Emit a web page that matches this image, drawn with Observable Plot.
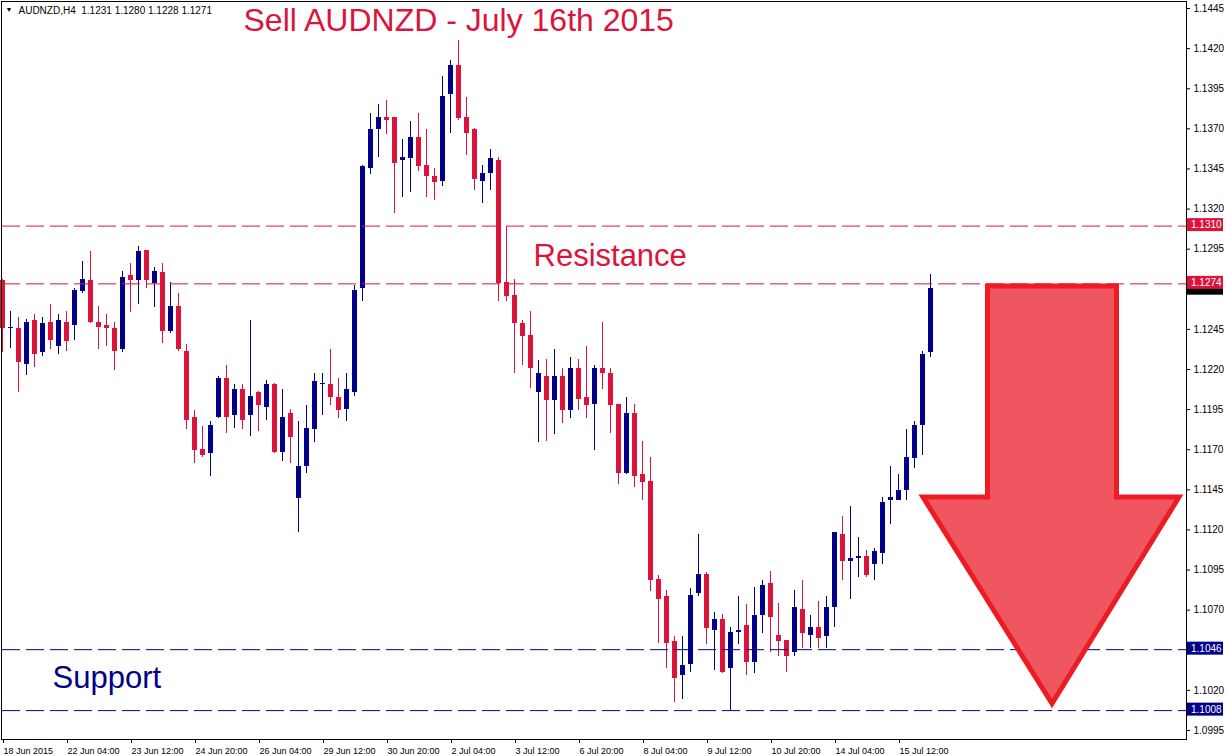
<!DOCTYPE html>
<html>
<head>
<meta charset="utf-8">
<script src="https://cdn.jsdelivr.net/npm/d3@7"></script>
<script src="https://cdn.jsdelivr.net/npm/@observablehq/plot@0.6"></script>
<style>
html, body { margin: 0; padding: 0; background: #fff; }
#chart svg { display: block; }
</style>
</head>
<body>
<div id="chart"></div>
<script>
// ---- Data (AUDNZD, H4 bars) ----
const opens  = [1.1276,1.1246,1.1246,1.1224,1.1251,1.1231,1.1250,1.1235,1.1250,1.1248,
                1.1269,1.1276,1.1250,1.1248,1.1246,1.1233,1.1279,1.1276,1.1295,1.1274,
                1.1281,1.1244,1.1260,1.1232,1.1191,1.1171,1.1168,1.1191,1.1215,1.1192,
                1.1208,1.1192,1.1206,1.1197,1.1211,1.1169,1.1193,1.1140,1.1160,1.1183,
                1.1211,1.1211,1.1203,1.1196,1.1206,1.1271,1.1346,1.1370,1.1378,1.1378,
                1.1351,1.1352,1.1365,1.1348,1.1341,1.1338,1.1392,1.1410,1.1378,1.1370,
                1.1338,1.1343,1.1351,1.1275,1.1267,1.1249,1.1242,1.1206,1.1216,1.1201,
                1.1216,1.1195,1.1221,1.1203,1.1199,1.1221,1.1218,1.1199,1.1156,1.1193,
                1.1155,1.1151,1.1090,1.1079,1.1051,1.1030,1.1037,1.1081,1.1093,1.1058,
                1.1065,1.1034,1.1057,1.1061,1.1038,1.1067,1.1087,1.1055,1.1052,1.1044,
                1.1071,1.1055,1.1060,1.1054,1.1072,1.1118,1.1101,1.1103,1.1104,1.1099,
                1.1106,1.1139,1.1139,1.1145,1.1165,1.1186,1.1231];
const highs  = [1.1277,1.1257,1.1253,1.1252,1.1255,1.1253,1.1261,1.1255,1.1257,1.1271,
                1.1288,1.1294,1.1260,1.1255,1.1250,1.1282,1.1287,1.1297,1.1295,1.1284,
                1.1287,1.1275,1.1268,1.1236,1.1195,1.1185,1.1188,1.1216,1.1223,1.1211,
                1.1211,1.1251,1.1207,1.1214,1.1212,1.1208,1.1196,1.1188,1.1198,1.1218,
                1.1218,1.1233,1.1215,1.1218,1.1273,1.1348,1.1380,1.1386,1.1388,1.1378,
                1.1364,1.1375,1.1380,1.1370,1.1346,1.1403,1.1413,1.1426,1.1390,1.1371,
                1.1348,1.1358,1.1353,1.1275,1.1277,1.1251,1.1257,1.1226,1.1227,1.1233,
                1.1221,1.1228,1.1227,1.1235,1.1223,1.1250,1.1221,1.1199,1.1203,1.1199,
                1.1176,1.1166,1.1092,1.1083,1.1054,1.1054,1.1084,1.1118,1.1094,1.1069,
                1.1068,1.1060,1.1079,1.1074,1.1085,1.1089,1.1095,1.1075,1.1052,1.1083,
                1.1089,1.1067,1.1076,1.1079,1.1119,1.1129,1.1135,1.1116,1.1108,1.1109,
                1.1141,1.1160,1.1155,1.1183,1.1188,1.1232,1.1280];
const lows   = [1.1231,1.1234,1.1206,1.1217,1.1222,1.1229,1.1233,1.1230,1.1232,1.1239,
                1.1268,1.1249,1.1233,1.1235,1.1220,1.1231,1.1256,1.1261,1.1271,1.1259,
                1.1237,1.1243,1.1232,1.1183,1.1162,1.1166,1.1154,1.1190,1.1181,1.1184,
                1.1183,1.1179,1.1182,1.1189,1.1168,1.1163,1.1162,1.1119,1.1156,1.1175,
                1.1192,1.1198,1.1190,1.1188,1.1204,1.1263,1.1342,1.1353,1.1367,1.1318,
                1.1328,1.1331,1.1344,1.1328,1.1326,1.1335,1.1368,1.1376,1.1354,1.1332,
                1.1324,1.1332,1.1263,1.1263,1.1218,1.1223,1.1209,1.1175,1.1176,1.1180,
                1.1187,1.1190,1.1195,1.1190,1.1170,1.1208,1.1181,1.1149,1.1155,1.1147,
                1.1139,1.1082,1.1050,1.1034,1.1013,1.1015,1.1032,1.1079,1.1049,1.1033,
                1.1031,1.1008,1.1049,1.1030,1.1031,1.1056,1.1044,1.1042,1.1032,1.1042,
                1.1047,1.1047,1.1047,1.1047,1.1060,1.1089,1.1077,1.1091,1.1091,1.1089,
                1.1099,1.1124,1.1139,1.1139,1.1159,1.1167,1.1228];
const closes = [1.1246,1.1247,1.1225,1.1250,1.1230,1.1249,1.1239,1.1251,1.1238,1.1270,
                1.1277,1.1250,1.1247,1.1246,1.1232,1.1278,1.1276,1.1294,1.1276,1.1282,
                1.1244,1.1260,1.1233,1.1189,1.1170,1.1167,1.1186,1.1215,1.1191,1.1208,
                1.1189,1.1204,1.1198,1.1211,1.1169,1.1191,1.1178,1.1160,1.1184,1.1213,
                1.1212,1.1203,1.1195,1.1208,1.1270,1.1347,1.1370,1.1378,1.1376,1.1349,
                1.1353,1.1365,1.1347,1.1341,1.1337,1.1391,1.1410,1.1377,1.1368,1.1339,
                1.1343,1.1352,1.1274,1.1266,1.1249,1.1241,1.1221,1.1218,1.1201,1.1216,
                1.1195,1.1221,1.1202,1.1198,1.1221,1.1218,1.1198,1.1156,1.1193,1.1154,
                1.1150,1.1089,1.1077,1.1050,1.1028,1.1036,1.1080,1.1093,1.1059,1.1065,
                1.1032,1.1057,1.1058,1.1038,1.1067,1.1086,1.1066,1.1051,1.1042,1.1072,
                1.1056,1.1060,1.1053,1.1072,1.1119,1.1101,1.1103,1.1104,1.1092,1.1107,
                1.1138,1.1141,1.1145,1.1166,1.1186,1.1230,1.1271];

// time axis: bar index of each labelled tick and its label
const tickBars   = [0, 8, 16, 24, 32, 40, 48, 56, 64, 72, 80, 88, 96, 104, 112];
const tickLabels = ["18 Jun 2015","22 Jun 04:00","23 Jun 12:00","24 Jun 20:00","26 Jun 04:00",
                    "29 Jun 12:00","30 Jun 20:00","2 Jul 04:00","3 Jul 12:00","6 Jul 20:00",
                    "8 Jul 04:00","9 Jul 12:00","10 Jul 20:00","14 Jul 04:00","15 Jul 12:00"];
// price axis ticks shown on the right scale
const priceTicks = [1.1445,1.1420,1.1395,1.1370,1.1345,1.1320,1.1295,1.1245,1.1220,
                    1.1195,1.1170,1.1145,1.1120,1.1095,1.1070,1.1020,1.0995];
// horizontal levels (resistance / support)
const levels      = [1.1310, 1.1274, 1.1046, 1.1008];
const levelKinds  = ["res", "res", "sup", "sup"];
const currentPrice = 1.1271;
// resistance zone left edge (bar index, low, high)
const zoneBar = [63], zoneLow = [1.1274], zoneHigh = [1.1310];
// sell arrow outline (bar index, price)
const arrowBars   = [123.125, 139.25, 139.25, 147.06, 131.19, 115.06, 123.125];
const arrowPrices = [1.12727, 1.12727, 1.11411, 1.11411, 1.10124, 1.11411, 1.11411];

// ---- Styles ----
const BULL = "#000088", BEAR = "#DC143C";
const FONT = "Liberation Sans, Arial, sans-serif";

const candles = opens.map((o, i) => ({i, o, h: highs[i], l: lows[i], c: closes[i], up: closes[i] >= o}));
const levelRows = levels.map((v, i) => ({v, color: levelKinds[i] === "res" ? BEAR : BULL}));
const zone = zoneBar.map((b, i) => ({b, lo: zoneLow[i], hi: zoneHigh[i]}));
const arrow = arrowBars.map((b, i) => ({b, p: arrowPrices[i]}));

function priceBoxes(index, scales, values, dims) {
  const g = d3.create("svg:g").attr("font-family", FONT).attr("font-size", 10)
    .attr("text-anchor", "start");
  const x0 = dims.width - dims.marginRight + 1;
  // current price marker (mostly covered by the 1.1274 label, as in the original)
  const yc = scales.y(currentPrice);
  g.append("rect").attr("x", x0).attr("y", yc - 6.5).attr("width", 36).attr("height", 13).attr("fill", "#000");
  for (const it of levelRows) {
    const y = scales.y(it.v);
    g.append("rect").attr("x", x0).attr("y", y - 7.5).attr("width", 36).attr("height", 13).attr("fill", it.color);
    g.append("text").attr("x", x0 + 4).attr("y", y - 1).attr("dy", "0.35em")
      .attr("fill", "#fff").text(it.v.toFixed(4));
  }
  return g.node();
}

const chart = Plot.plot({
  width: 1226,
  height: 756,
  marginLeft: 1,
  marginRight: 40,
  marginTop: 1,
  marginBottom: 17,
  style: {fontFamily: FONT, background: "#fff", color: "#000", overflow: "visible"},
  x: {type: "linear", domain: [-0.125, 148], label: null},
  y: {type: "linear", domain: [1.0990, 1.1450], label: null},
  color: {type: "identity"},
  marks: [
    // wicks
    Plot.ruleX(candles, {x: "i", y1: "l", y2: "h", stroke: d => d.up ? BULL : BEAR, strokeWidth: 1,
                         shapeRendering: "crispEdges"}),
    // bodies
    Plot.rect(candles, {x1: d => d.i - 0.3125, x2: d => d.i + 0.3125, y1: "o", y2: "c",
                        fill: d => d.up ? BULL : BEAR, shapeRendering: "crispEdges"}),
    // support / resistance lines
    Plot.ruleY(levelRows, {y: "v", stroke: "color", strokeWidth: 1, strokeDasharray: "18,6", strokeDashoffset: -1}),
    Plot.ruleX(zone, {x: "b", y1: "lo", y2: "hi", stroke: BEAR, strokeWidth: 1, shapeRendering: "crispEdges"}),
    // sell arrow
    Plot.line(arrow, {x: "b", y: "p", curve: "linear-closed", fill: "#F0565F", stroke: "#EC1C24",
                      strokeWidth: 5, strokeLinejoin: "miter", strokeMiterlimit: 10}),
    // texts
    Plot.text(["Sell AUDNZD - July 16th 2015"], {text: d => d, frameAnchor: "top-left", dx: 242, dy: 7,
      lineAnchor: "top", textAnchor: "start", fontSize: 32, fill: BEAR}),
    Plot.text(["Resistance"], {text: d => d, frameAnchor: "top-left", dx: 532, dy: 242,
      lineAnchor: "top", textAnchor: "start", fontSize: 31, fill: BEAR}),
    Plot.text(["Support"], {text: d => d, frameAnchor: "top-left", dx: 51, dy: 664,
      lineAnchor: "top", textAnchor: "start", fontSize: 31, fill: BULL}),
    Plot.text(["AUDNZD,H4\u00a0\u00a01.1231 1.1280 1.1228 1.1271"], {text: d => d, frameAnchor: "top-left",
      dx: 17, dy: 5, lineAnchor: "top", textAnchor: "start", fontSize: 10, fill: "#000",
      letterSpacing: 0.45}),
    Plot.text(["\u25BC"], {text: d => d, frameAnchor: "top-left", dx: 4, dy: 6,
      lineAnchor: "top", textAnchor: "start", fontSize: 7, fill: "#000"}),
    // axes
    Plot.axisY(priceTicks, {anchor: "right", tickSize: 3, tickPadding: 4, fontSize: 10, dy: -1,
      tickFormat: d => d.toFixed(4), label: null}),
    Plot.axisX(tickBars, {anchor: "bottom", tickSize: 4, tickPadding: 4, fontSize: 9, textAnchor: "start", dx: 1,
      tickFormat: d => tickLabels[tickBars.indexOf(d)], label: null}),
    priceBoxes,
    Plot.frame({stroke: "#000", shapeRendering: "crispEdges"})
  ]
});
document.getElementById("chart").appendChild(chart);
</script>
</body>
</html>
